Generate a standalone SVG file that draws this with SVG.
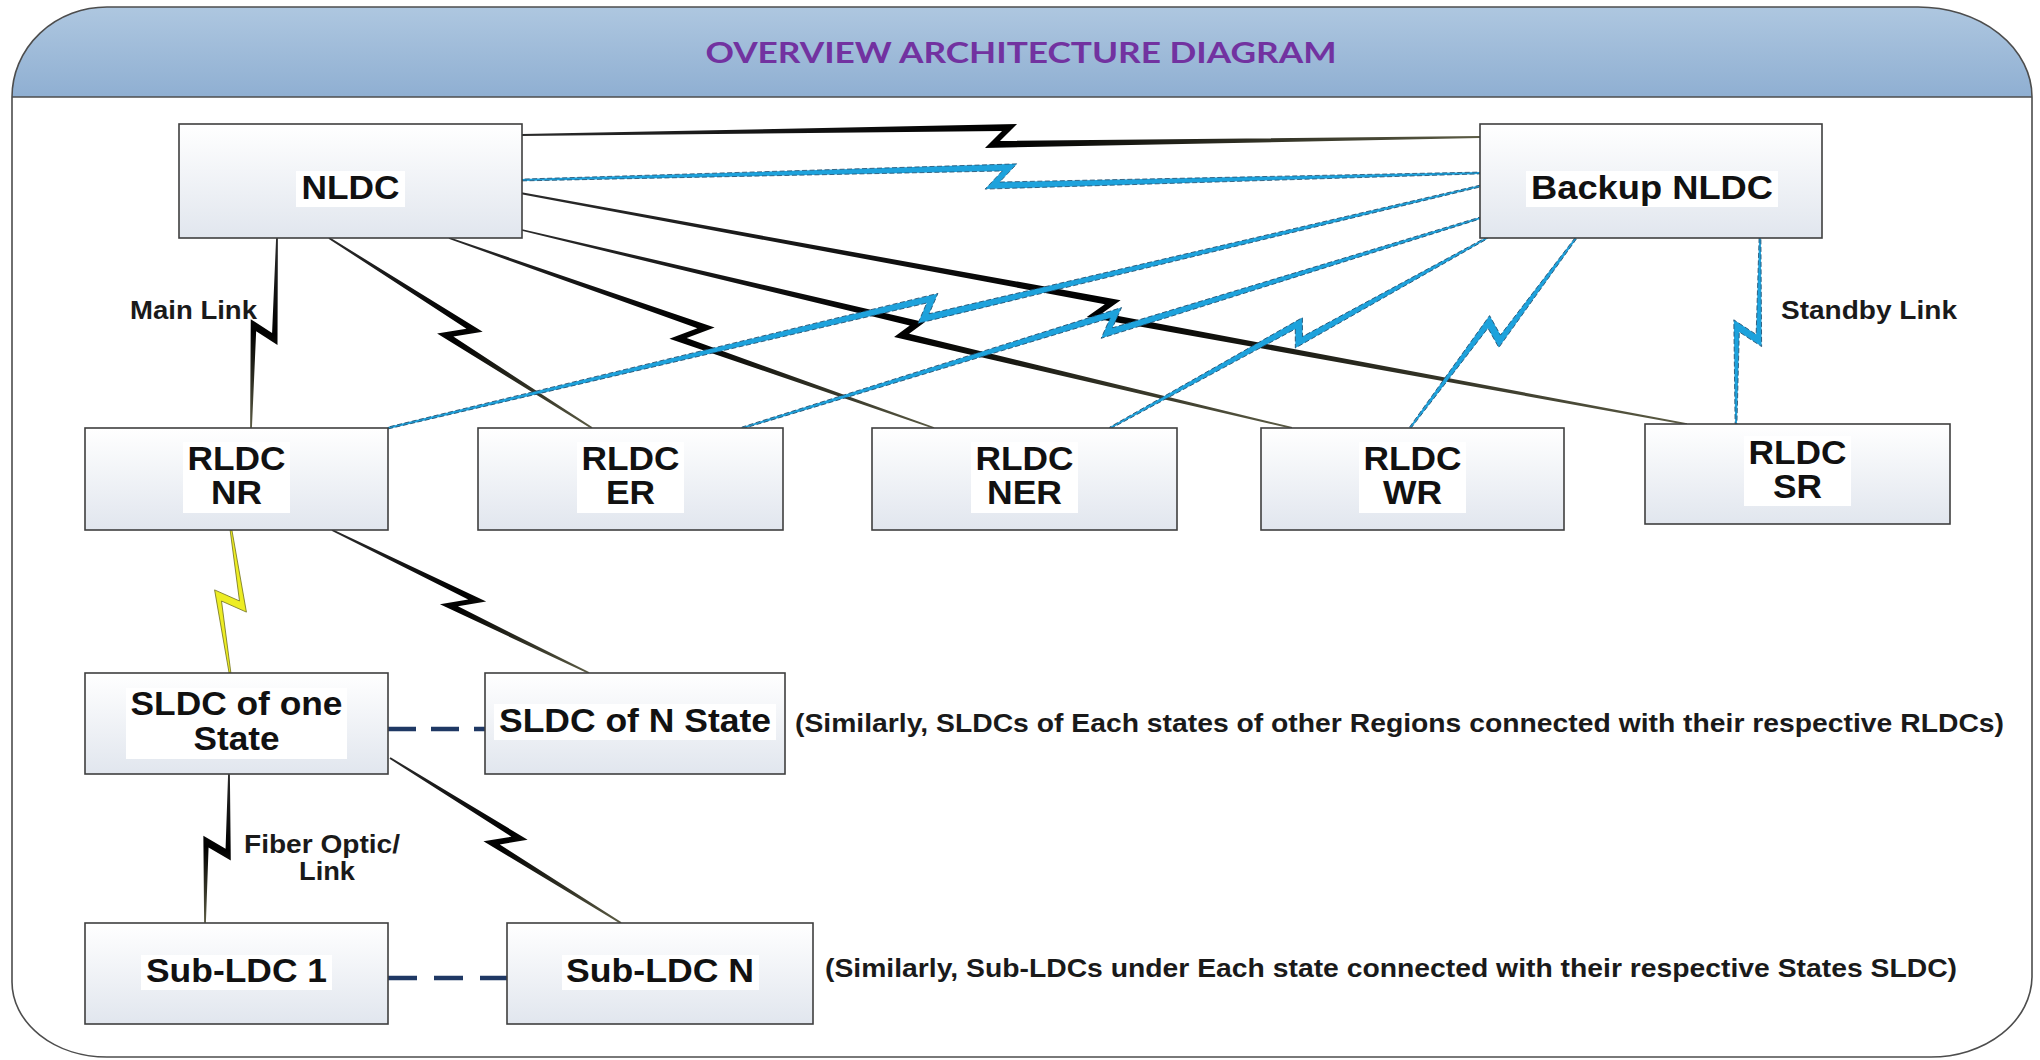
<svg xmlns="http://www.w3.org/2000/svg" width="2040" height="1060" viewBox="0 0 2040 1060">
<defs>
<linearGradient id="hdr" x1="0" y1="0" x2="0" y2="1"><stop offset="0" stop-color="#AEC7E0"/><stop offset="1" stop-color="#8FAFD2"/></linearGradient>
<linearGradient id="boxg" x1="0" y1="0" x2="0" y2="1"><stop offset="0" stop-color="#FFFFFF"/><stop offset="1" stop-color="#E1E6EE"/></linearGradient>
<linearGradient id="gk" x1="0" y1="0" x2="1" y2="0"><stop offset="0" stop-color="#2b2b2b"/><stop offset="0.5" stop-color="#000000"/><stop offset="1" stop-color="#5b5b44"/></linearGradient>
</defs>
<style>
.box{fill:url(#boxg);stroke:#3f3f3f;stroke-width:1.6}
.tbg{fill:#ffffff}
.t{font-family:"Liberation Sans",Arial,sans-serif;font-weight:bold;font-size:33px;fill:#111111;text-anchor:middle}
.lab{font-family:"Liberation Sans",Arial,sans-serif;font-weight:bold;font-size:25px;fill:#1a1a1a}
.bk{fill:url(#gk)}
.bl{fill:#1DA2DC;stroke:#1f4d6e;stroke-width:0.8;stroke-dasharray:5 2.5}
.yl{fill:#EDED24;stroke:#6f6f1c;stroke-width:0.8}
.dash{stroke:#1F3864;stroke-width:4.5;fill:none}
</style>

<g id="frame">
<path d="M107,7 H1918 A114,90 0 0 1 2032,97 V977 A101,81 0 0 1 1931,1057 H107 A95,75 0 0 1 12,982 V97 A95,90 0 0 1 107,7 Z" fill="#ffffff"/>
<path d="M12,97 A95,90 0 0 1 107,7 H1918 A114,90 0 0 1 2032,97 Z" fill="url(#hdr)"/>
<path d="M107,7 H1918 A114,90 0 0 1 2032,97 V977 A101,81 0 0 1 1931,1057 H107 A95,75 0 0 1 12,982 V97 A95,90 0 0 1 107,7 Z" fill="none" stroke="#4d4d4d" stroke-width="1.6"/>
<line x1="12" y1="97" x2="2032" y2="97" stroke="#4d4d4d" stroke-width="1.6"/>
<text x="1021" y="63" font-family="Lato,'Liberation Sans',sans-serif" font-weight="bold" font-size="29" fill="#7232A0" text-anchor="middle" textLength="631" lengthAdjust="spacingAndGlyphs">OVERVIEW ARCHITECTURE DIAGRAM</text>
</g>

<g id="connectors">
<polygon class="bk" transform="translate(522,135) rotate(0.12)" points="0,0.9 480,-5 463,12 958,0.9 958,-0.9 478,5 495,-12 0,-0.9"/>
<polygon class="bk" transform="translate(277,238) rotate(97.79)" points="0,0.9 94.7,-8 84,15 191.8,0.9 191.8,-0.9 95.3,8 106,-15 0,-0.9"/>
<polygon class="bk" transform="translate(329,238) rotate(35.85)" points="0,0.9 164.5,-7 143.5,14 324.4,0.9 324.4,-0.9 158.5,7 179.5,-14 0,-0.9"/>
<polygon class="bk" transform="translate(449,238) rotate(21.39)" points="0,0.9 264.2,-6.5 242,13.5 520.9,0.9 520.9,-0.9 257.8,6.5 280,-13.5 0,-0.9"/>
<polygon class="bk" transform="translate(522,230) rotate(14.42)" points="0,0.9 399.3,-4 387,11 795,0.9 795,-0.9 400.7,4 413,-11 0,-0.9"/>
<polygon class="bk" transform="translate(520,193) rotate(11.2)" points="0,0.9 595.3,-4.5 580,11.5 1189.6,0.9 1189.6,-0.9 594.7,4.5 610,-11.5 0,-0.9"/>
<polygon class="bk" transform="translate(332,530) rotate(29.09)" points="0,0.9 152.8,-5.5 130.5,12.5 294.1,0.9 294.1,-0.9 147.2,5.5 169.5,-12.5 0,-0.9"/>
<polygon class="bk" transform="translate(229,774) rotate(99.15)" points="0,0.9 74.3,-8.5 65,15.5 150.9,0.9 150.9,-0.9 75.7,8.5 85,-15.5 0,-0.9"/>
<polygon class="bk" transform="translate(390,758) rotate(35.54)" points="0,0.9 144.5,-6.5 124.5,13.5 283.9,0.9 283.9,-0.9 139.5,6.5 159.5,-13.5 0,-0.9"/>

<polygon class="bl" transform="translate(522,180) rotate(-0.42)" points="0,0.9 480.3,-5.5 463,12.5 958,0.9 958,-0.9 477.7,5.5 495,-12.5 0,-0.9"/>
<polygon class="bl" transform="translate(388,428) rotate(-12.49)" points="0,0.9 553,-5.5 540,12.5 1118.5,0.9 1118.5,-0.9 553,5.5 566,-12.5 0,-0.9"/>
<polygon class="bl" transform="translate(742,428) rotate(-15.88)" points="0,0.9 384.2,-5 370,12 767.3,0.9 767.3,-0.9 383.8,5 398,-12 0,-0.9"/>
<polygon class="bl" transform="translate(1110,428) rotate(-26.75)" points="0,0.9 210,-5 201.5,12 422.2,0.9 422.2,-0.9 213,5 221.5,-12 0,-0.9"/>
<polygon class="bl" transform="translate(1410,428) rotate(-48.86)" points="0,0.9 126.5,-7 119,14 252.3,0.9 252.3,-0.9 129.5,7 137,-14 0,-0.9"/>
<polygon class="bl" transform="translate(1760,238) rotate(97.35)" points="0,0.9 96.1,-8.5 84.5,15.5 187.5,0.9 187.5,-0.9 95.9,8.5 107.5,-15.5 0,-0.9"/>

<polygon class="yl" transform="translate(231,530) rotate(90.4)" points="0,0.9 70.9,-9 60,16 143,0.9 143,-0.9 71.1,9 82,-16 0,-0.9"/>

<line class="dash" x1="388" y1="729" x2="485" y2="729" stroke-dasharray="28 15"/>
<line class="dash" x1="388" y1="978" x2="507" y2="978" stroke-dasharray="29 17"/>
</g>

<g id="labels">
<text class="lab" x="130" y="319" textLength="127" lengthAdjust="spacingAndGlyphs">Main Link</text>
<text class="lab" x="1781" y="319" textLength="176" lengthAdjust="spacingAndGlyphs">Standby Link</text>
<text class="lab" x="244" y="853" textLength="156" lengthAdjust="spacingAndGlyphs">Fiber Optic/</text>
<text class="lab" x="299" y="880" textLength="56" lengthAdjust="spacingAndGlyphs">Link</text>
<text class="lab" x="795" y="732" textLength="1209" lengthAdjust="spacingAndGlyphs">(Similarly, SLDCs of Each states of other Regions connected with their respective RLDCs)</text>
<text class="lab" x="825" y="977" textLength="1132" lengthAdjust="spacingAndGlyphs">(Similarly, Sub-LDCs under Each state connected with their respective States SLDC)</text>
</g>

<g id="node-nldc">
<rect class="box" x="179" y="124" width="343" height="114"/>
<rect class="tbg" x="296" y="171" width="109" height="36"/>
<text class="t" x="350.5" y="199" textLength="98" lengthAdjust="spacingAndGlyphs">NLDC</text>
</g>
<g id="node-backup-nldc">
<rect class="box" x="1480" y="124" width="342" height="114"/>
<rect class="tbg" x="1526" y="171" width="252" height="36"/>
<text class="t" x="1652" y="199" textLength="242" lengthAdjust="spacingAndGlyphs">Backup NLDC</text>
</g>
<g id="node-rldc-nr">
<rect class="box" x="85" y="428" width="303" height="102"/>
<rect class="tbg" x="183" y="442" width="107" height="71"/>
<text class="t" x="236.5" y="470" textLength="98" lengthAdjust="spacingAndGlyphs">RLDC</text>
<text class="t" x="236.5" y="504" textLength="51" lengthAdjust="spacingAndGlyphs">NR</text>
</g>
<g id="node-rldc-er">
<rect class="box" x="478" y="428" width="305" height="102"/>
<rect class="tbg" x="577" y="442" width="107" height="71"/>
<text class="t" x="630.5" y="470" textLength="98" lengthAdjust="spacingAndGlyphs">RLDC</text>
<text class="t" x="630.5" y="504" textLength="49" lengthAdjust="spacingAndGlyphs">ER</text>
</g>
<g id="node-rldc-ner">
<rect class="box" x="872" y="428" width="305" height="102"/>
<rect class="tbg" x="971" y="442" width="107" height="71"/>
<text class="t" x="1024.5" y="470" textLength="98" lengthAdjust="spacingAndGlyphs">RLDC</text>
<text class="t" x="1024.5" y="504" textLength="75" lengthAdjust="spacingAndGlyphs">NER</text>
</g>
<g id="node-rldc-wr">
<rect class="box" x="1261" y="428" width="303" height="102"/>
<rect class="tbg" x="1359" y="442" width="107" height="71"/>
<text class="t" x="1412.5" y="470" textLength="98" lengthAdjust="spacingAndGlyphs">RLDC</text>
<text class="t" x="1412.5" y="504" textLength="59" lengthAdjust="spacingAndGlyphs">WR</text>
</g>
<g id="node-rldc-sr">
<rect class="box" x="1645" y="424" width="305" height="100"/>
<rect class="tbg" x="1744" y="436" width="107" height="70"/>
<text class="t" x="1797.5" y="464" textLength="98" lengthAdjust="spacingAndGlyphs">RLDC</text>
<text class="t" x="1797.5" y="498" textLength="49" lengthAdjust="spacingAndGlyphs">SR</text>
</g>
<g id="node-sldc-one">
<rect class="box" x="85" y="673" width="303" height="101"/>
<rect class="tbg" x="126" y="688" width="221" height="71"/>
<text class="t" x="236.5" y="715" textLength="212" lengthAdjust="spacingAndGlyphs">SLDC of one</text>
<text class="t" x="236.5" y="750" textLength="86" lengthAdjust="spacingAndGlyphs">State</text>
</g>
<g id="node-sldc-n">
<rect class="box" x="485" y="673" width="300" height="101"/>
<rect class="tbg" x="494" y="704" width="282" height="36"/>
<text class="t" x="635" y="732" textLength="272" lengthAdjust="spacingAndGlyphs">SLDC of N State</text>
</g>
<g id="node-sub-ldc-1">
<rect class="box" x="85" y="923" width="303" height="101"/>
<rect class="tbg" x="141" y="955" width="191" height="35"/>
<text class="t" x="236.5" y="982" textLength="181" lengthAdjust="spacingAndGlyphs">Sub-LDC 1</text>
</g>
<g id="node-sub-ldc-n">
<rect class="box" x="507" y="923" width="306" height="101"/>
<rect class="tbg" x="562" y="955" width="197" height="35"/>
<text class="t" x="660" y="982" textLength="188" lengthAdjust="spacingAndGlyphs">Sub-LDC N</text>
</g>
</svg>
